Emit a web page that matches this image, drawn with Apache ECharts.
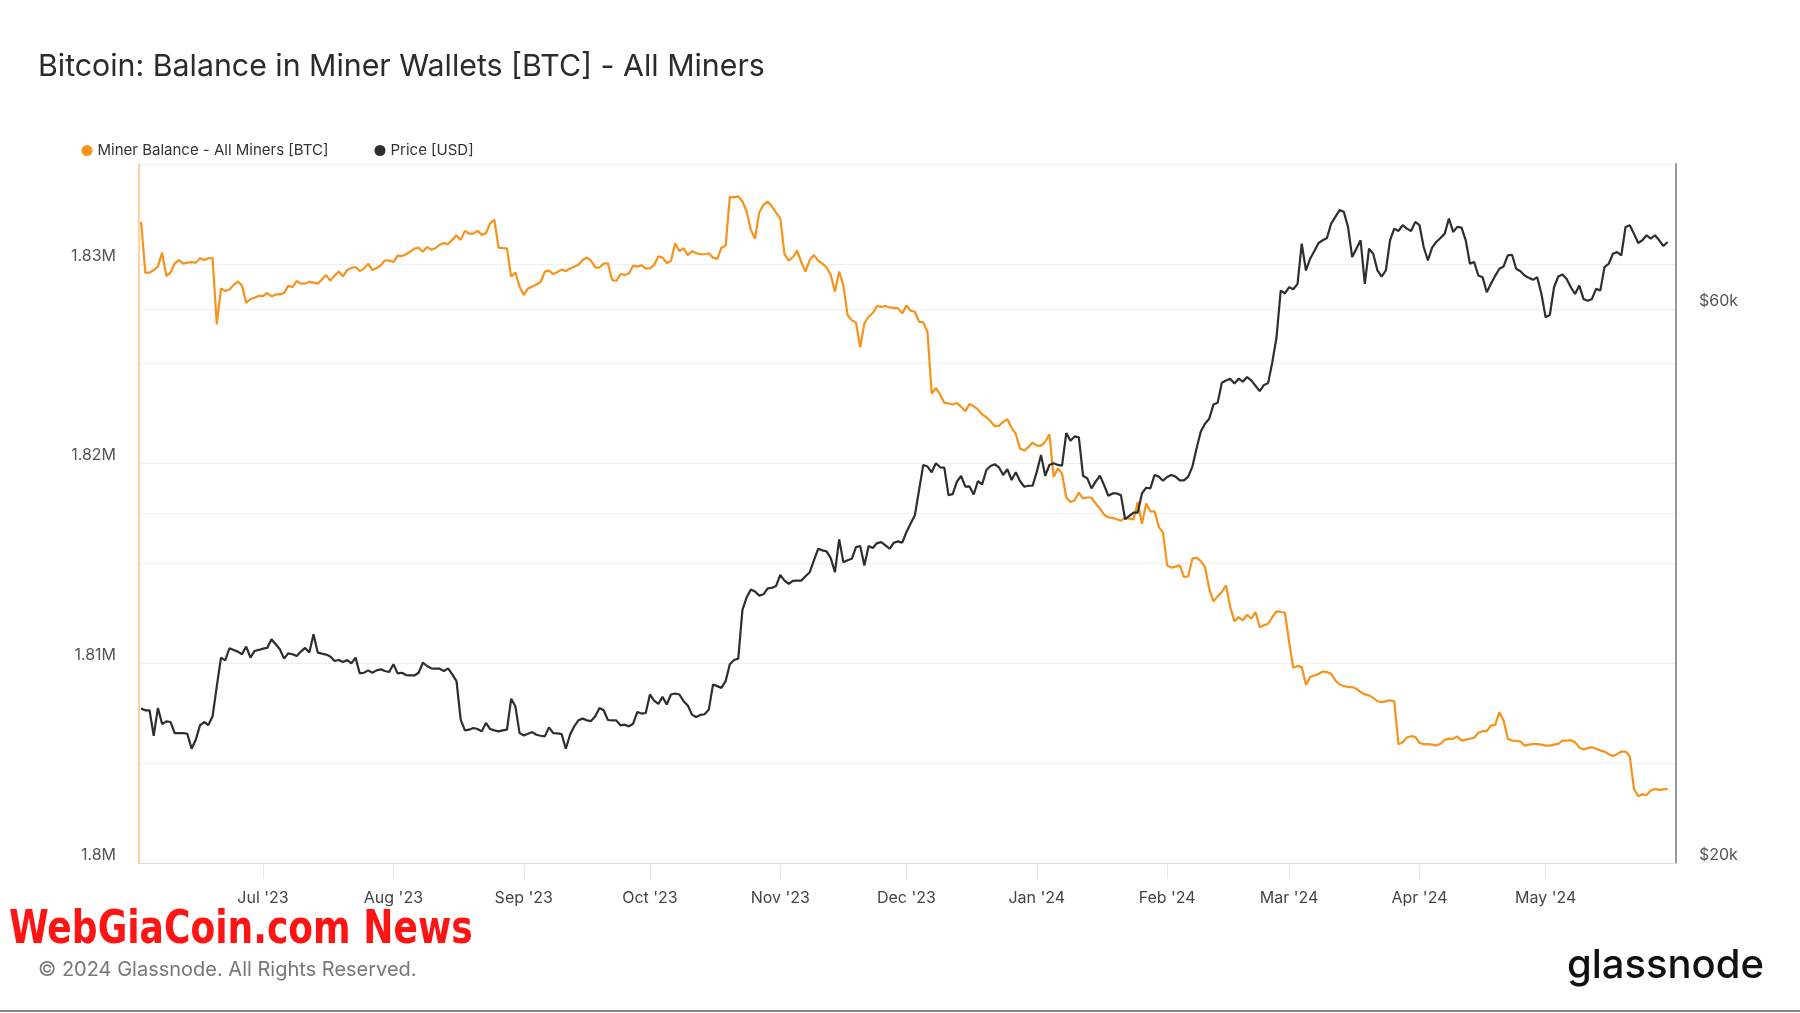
<!DOCTYPE html>
<html><head><meta charset="utf-8">
<script src="https://cdn.jsdelivr.net/npm/echarts@6/dist/echarts.min.js"></script>
<style>html,body{margin:0;padding:0;background:#fff}#c{width:1800px;height:1013px}</style>
</head><body><div id="c"></div>
<script>
// Daily miner balance [BTC], 2023-06-02 .. 2023-12-31
const balance2023 = [
1832110,1829560,1829560,1829690,1829860,1830560,1829390,1829570,1830030,1830190,
1830010,1830060,1830090,1830060,1830280,1830190,1830280,1830290,1826970,1828770,
1828640,1828720,1828940,1829120,1828910,1828040,1828240,1828300,1828400,1828390,
1828540,1828370,1828470,1828470,1828540,1828910,1828840,1829140,1829010,1829010,
1829110,1829060,1829010,1829220,1829440,1829160,1829410,1829620,1829370,1829690,
1829790,1829840,1829640,1829760,1830010,1829690,1829790,1829930,1830180,1830160,
1830090,1830410,1830390,1830480,1830610,1830760,1830810,1830610,1830840,1830710,
1830780,1830960,1831040,1830990,1831200,1831430,1831200,1831650,1831510,1831510,
1831650,1831450,1831530,1832030,1832210,1830810,1830790,1830780,1829360,1829570,
1828860,1828440,1828770,1828860,1828970,1829090,1829610,1829660,1829490,1829590,
1829710,1829640,1829770,1829860,1829960,1830190,1830310,1830160,1829810,1829820,
1830010,1830030,1829190,1829140,1829490,1829440,1829520,1829910,1829860,1829930,
1829770,1829770,1829940,1830380,1830310,1830040,1830140,1831030,1830640,1830780,
1830440,1830630,1830540,1830480,1830480,1830530,1830310,1830240,1830810,1830910,
1833350,1833330,1833380,1833120,1832620,1831700,1831260,1832580,1832950,1833120,
1832870,1832570,1832280,1830490,1830160,1830330,1830660,1830080,1829610,1830190,
1830440,1830160,1830010,1829830,1829440,1828610,1829620,1828910,1827440,1827170,
1827070,1825820,1827020,1827350,1827540,1827890,1827850,1827890,1827820,1827800,
1827770,1827520,1827920,1827650,1827600,1827100,1827070,1826600,1823510,1823790,
1823460,1823040,1823010,1822960,1823030,1822840,1822620,1822990,1822870,1822710,
1822460,1822320,1822120,1821870,1821890,1822090,1822220,1821790,1821490,1820750,
1820650,1820820,1821050
];
// Daily miner balance [BTC], 2024-01-01 .. 2024-05-30
const balance2024 = [
1820900,1820900,1821090,1821470,1819330,1819750,1819500,1818300,1818080,1818160,
1818550,1818250,1818300,1818300,1818000,1817750,1817440,1817310,1817280,1817210,
1817140,1817280,1817240,1817210,1818080,1816990,1818000,1817610,1817610,1816830,
1816540,1814900,1814790,1814840,1814900,1814320,1814350,1815240,1815290,1815120,
1814820,1813730,1813100,1813350,1813570,1813900,1812820,1812100,1812310,1812150,
1812430,1812230,1812570,1811810,1811900,1811980,1812310,1812600,1812570,1812530,
1811060,1809770,1809870,1809810,1808920,1809310,1809390,1809470,1809590,1809560,
1809470,1809140,1808940,1808860,1808810,1808810,1808720,1808560,1808440,1808390,
1808270,1808100,1808050,1808090,1808150,1808090,1805950,1806050,1806280,1806350,
1806320,1806020,1805950,1805950,1805930,1805880,1805970,1806170,1806230,1806220,
1806330,1806130,1806180,1806220,1806270,1806520,1806600,1806600,1806880,1806920,
1807550,1807140,1806220,1806130,1806120,1806080,1805880,1805930,1805950,1805950,
1805930,1805880,1805880,1805930,1805970,1806130,1806120,1806150,1806050,1805780,
1805680,1805750,1805800,1805720,1805630,1805580,1805450,1805360,1805450,1805580,
1805580,1805350,1803710,1803340,1803440,1803410,1803630,1803710,1803660,1803690,
1803710
];
// Daily BTC price [USD], 2023-06-02 .. 2023-12-31
const price2023 = [
27165,27074,27074,25742,27202,26346,26489,26452,25878,25878,
25878,25845,25084,25538,26277,26452,26295,26752,28404,30054,
29896,30620,30518,30416,30255,30720,30054,30456,30518,30599,
30640,31173,30866,30558,29995,30314,30255,30153,30416,30640,
30357,31487,30357,30295,30236,30116,29856,29915,29794,29915,
29717,30054,29129,29169,29304,29169,29304,29363,29267,29209,
29659,29129,29169,29033,29011,29011,29169,29754,29560,29422,
29403,29403,29267,29422,29070,28686,26576,26017,26053,26141,
26086,25966,26401,26086,26017,25966,26017,26053,27695,27293,
25878,25757,25845,25929,25794,25742,25709,26174,25878,25863,
25827,25084,25794,26225,26540,26631,26540,26503,26752,27202,
27074,26558,26540,26540,26277,26313,26225,26364,26986,26898,
26931,27936,27604,27417,27805,27385,27936,27991,27936,27567,
27330,26843,26719,26825,26861,27110,28500,28404,28306,28686,
29659,29913,29994,33047,33872,34396,34260,33988,34078,34486,
34512,34647,35417,35020,34783,34998,35020,35020,35321,35603,
36443,37298,37178,37102,36609,35603,38003,36322,36463,36564,
37424,37500,36081,37500,37353,37721,37796,37550,37298,37751,
37852,37751,38561,39210,39864,41902,44045,43899,43406,44190,
43838,43809,41484,41569,42606,43089,42183,42210,41539,42661,
42380,43607,43954,44105,43838,43174,43667,42746,43406,42661,
42183,42264,42264
];
// Daily BTC price [USD], 2024-01-01 .. 2024-05-30
const price2024 = [
43461,44930,43109,44045,44190,44045,43990,46917,46203,46605,
46515,43109,42888,42042,42606,43109,42319,41434,41625,41625,
41484,39547,39810,40075,40075,41625,42098,42042,43174,43034,
42691,43003,43174,43034,42717,42717,43034,43899,45533,47073,
47797,48276,49644,49815,51844,52080,52258,51771,52258,51950,
52429,52080,51536,50984,51601,51803,54000,56708,62237,61906,
62652,62400,63074,68311,64771,66297,67312,68400,68766,69090,
71088,72038,73004,72761,70617,66517,67630,68766,63074,67630,
66955,64771,64000,64771,68766,70380,70057,70853,70380,70057,
71324,70853,67857,66070,67767,68538,69090,69683,71802,69918,
70617,70525,68766,65640,65860,64130,63918,62035,63074,64088,
64990,65290,66735,66822,64990,64681,64130,63829,63577,63918,
61822,59014,59331,62652,64000,64251,63697,62652,61822,62855,
61214,61003,61214,62448,62237,65201,65640,66955,67183,66735,
70617,70853,69683,68400,68766,69456,68993,69456,68766,67994,
68538
];
const start2023 = '2023-06-02';
const start2024 = '2024-01-01';
const monthTicks = ['2023-07-01','2023-08-01','2023-09-01','2023-10-01','2023-11-01','2023-12-01',
                    '2024-01-01','2024-02-01','2024-03-01','2024-04-01','2024-05-01'];
const monthLabels = ["Jul '23","Aug '23","Sep '23","Oct '23","Nov '23","Dec '23",
                     "Jan '24","Feb '24","Mar '24","Apr '24","May '24"];
const priceLabelTicks = [20000, 60000];
const priceGridTicks = [20000, 40000, 60000];
const seriesNames = ['Miner Balance - All Miners [BTC]', 'Price [USD]'];

const DAY = 86400000;
function daily(start, vals) {
  const t0 = Date.parse(start + 'T00:00:00Z');
  return vals.map((v, i) => [t0 + i * DAY, v]);
}
const balanceData = daily(start2023, balance2023).concat(daily(start2024, balance2024));
const priceData = daily(start2023, price2023).concat(daily(start2024, price2024));
const tickTimes = monthTicks.map(d => Date.parse(d + 'T00:00:00Z'));

const FONT = 'Inter, "Noto Sans", Roboto, sans-serif';
const ORANGE = '#f7931a';
const DARK = '#2e2e2e';

const chart = echarts.init(document.getElementById('c'), null, {renderer: 'canvas'});
chart.setOption({
  animation: false,
  backgroundColor: '#ffffff',
  textStyle: {fontFamily: FONT},
  grid: {left: 139, right: 124, top: 164, bottom: 150, containLabel: false},
  legend: {
    left: 76.5, top: 138, icon: 'circle', itemWidth: 11, itemHeight: 11, itemGap: 46,
    textStyle: {fontSize: 15, color: '#333', fontFamily: FONT},
    data: seriesNames
  },
  xAxis: {
    type: 'value',
    min: Date.parse('2023-06-01T12:00:00Z'),
    max: Date.parse('2024-06-01T00:00:00Z'),
    axisLine: {show: true, onZero: false, lineStyle: {color: '#dddddd', width: 1}},
    axisTick: {show: true, customValues: tickTimes, length: 16, lineStyle: {color: '#e8e8e8'}},
    axisLabel: {
      customValues: tickTimes,
      formatter: v => { const i = tickTimes.indexOf(v); return i >= 0 ? monthLabels[i] : ''; },
      fontSize: 16, color: '#444', margin: 27, fontFamily: FONT
    },
    splitLine: {show: false}
  },
  yAxis: [
    {
      type: 'value', position: 'left', min: 1800000, max: 1835000, interval: 5000,
      axisLine: {show: true, lineStyle: {color: 'rgba(247,147,26,0.55)', width: 1.5}},
      axisTick: {show: false},
      axisLabel: {
        formatter: v => (Math.round(v) % 10000 === 0 ? (Math.round(v) / 1e6) + 'M' : ''),
        fontSize: 16, color: '#555', margin: 23, verticalAlign: 'bottom', fontFamily: FONT
      },
      splitLine: {show: true, lineStyle: {color: '#efefef', width: 1}}
    },
    {
      type: 'log', logBase: 10, position: 'right', min: 20000, max: 80000,
      axisLine: {show: true, lineStyle: {color: '#9a9a9a', width: 2}},
      axisTick: {show: false, customValues: priceGridTicks},
      axisLabel: {
        customValues: priceLabelTicks,
        formatter: v => '$' + Math.round(v / 1000) + 'k',
        fontSize: 16, color: '#555', margin: 23, verticalAlign: 'bottom', fontFamily: FONT
      },
      splitLine: {show: true, lineStyle: {color: '#efefef', width: 1}}
    }
  ],
  series: [
    {
      name: seriesNames[0], type: 'line', yAxisIndex: 0, showSymbol: false, symbol: 'none',
      data: balanceData, lineStyle: {color: ORANGE, width: 2.2}, itemStyle: {color: ORANGE}, z: 2
    },
    {
      name: seriesNames[1], type: 'line', yAxisIndex: 1, showSymbol: false, symbol: 'none',
      data: priceData, lineStyle: {color: DARK, width: 2.2}, itemStyle: {color: DARK}, z: 3
    }
  ],
  graphic: [
    {type: 'text', x: 38, y: 66.5, style: {text: 'Bitcoin: Balance in Miner Wallets [BTC] - All Miners',
      fontSize: 30.3, fontFamily: FONT, fill: '#2b2b2b', verticalAlign: 'middle'}},
    {type: 'text', x: 9, y: 931, scaleX: 0.853, style: {text: 'WebGiaCoin.com News',
      font: 'bold 47px "DejaVu Sans Condensed", sans-serif', fill: '#ff1414', verticalAlign: 'middle'}},
    {type: 'text', x: 38, y: 969.5, style: {text: '\u00A9 2024 Glassnode. All Rights Reserved.',
      fontSize: 20, fontFamily: FONT, fill: '#777', verticalAlign: 'middle'}},
    {type: 'text', x: 1764, y: 966, style: {text: 'glassnode', fontSize: 40, fontWeight: 500,
      fontFamily: FONT, fill: '#111', align: 'right', verticalAlign: 'middle'}},
    {type: 'line', shape: {x1: 0, y1: 1011, x2: 1800, y2: 1011}, style: {stroke: '#8a8a8a', lineWidth: 2}}
  ]
});
</script>
</body></html>
